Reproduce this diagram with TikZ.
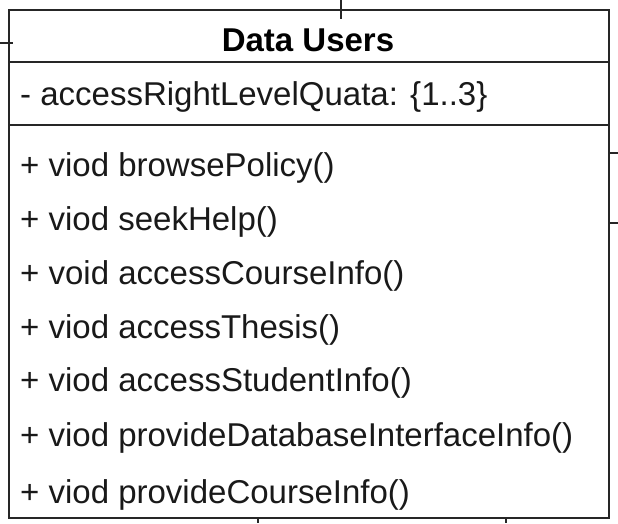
\documentclass[tikz,border=0pt]{standalone}
\usepackage{fontspec}
\setmainfont{Liberation Sans}
\begin{document}
\begin{tikzpicture}[x=1pt,y=-1pt,
  line/.style={draw=black!85, line width=1.6pt},
  member/.style={anchor=base west, inner sep=0pt, font=\fontsize{33}{36}\selectfont, text=black!90},
  title/.style={anchor=base, inner sep=0pt, font=\fontsize{33}{36}\selectfont\bfseries, text=black}]
\useasboundingbox (0,0) rectangle (618,523);
% class box
\node[line, rectangle, minimum width=600pt, minimum height=508pt, inner sep=0pt, anchor=north west] (cls) at (8,9) {};
\coordinate (s1w) at (8,62); \coordinate (s1e) at (608,62);
\coordinate (s2w) at (8,125); \coordinate (s2e) at (608,125);
\draw[line] (s1w) -- (s1e);
\draw[line] (s2w) -- (s2e);
% stubs
\coordinate (t0) at (341,0); \coordinate (t1) at (341,19);
\coordinate (l0) at (0,43); \coordinate (l1) at (13,43);
\coordinate (r1a) at (608,153); \coordinate (r1b) at (618,153);
\coordinate (r2a) at (608,223); \coordinate (r2b) at (618,223);
\coordinate (b1a) at (258,517); \coordinate (b1b) at (258,523);
\coordinate (b2a) at (506,517); \coordinate (b2b) at (506,523);
\draw[line] (t0) -- (t1);
\draw[line] (l0) -- (l1);
\draw[line] (r1a) -- (r1b);
\draw[line] (r2a) -- (r2b);
\draw[line] (b1a) -- (b1b);
\draw[line] (b2a) -- (b2b);
% texts
\node[title] (name) at (308,51) {Data Users};
\node[member] (attr) at (20,105) {- accessRightLevelQuata: \{1..3\}};
\node[member] (m1) at (20,176) {+ viod browsePolicy()};
\node[member] (m2) at (20,230) {+ viod seekHelp()};
\node[member] (m3) at (20,284) {+ void accessCourseInfo()};
\node[member] (m4) at (20,338) {+ viod accessThesis()};
\node[member] (m5) at (20,391) {+ viod accessStudentInfo()};
\node[member] (m6) at (20,446) {+ viod provideDatabaseInterfaceInfo()};
\node[member] (m7) at (20,503) {+ viod provideCourseInfo()};
\end{tikzpicture}
\end{document}
